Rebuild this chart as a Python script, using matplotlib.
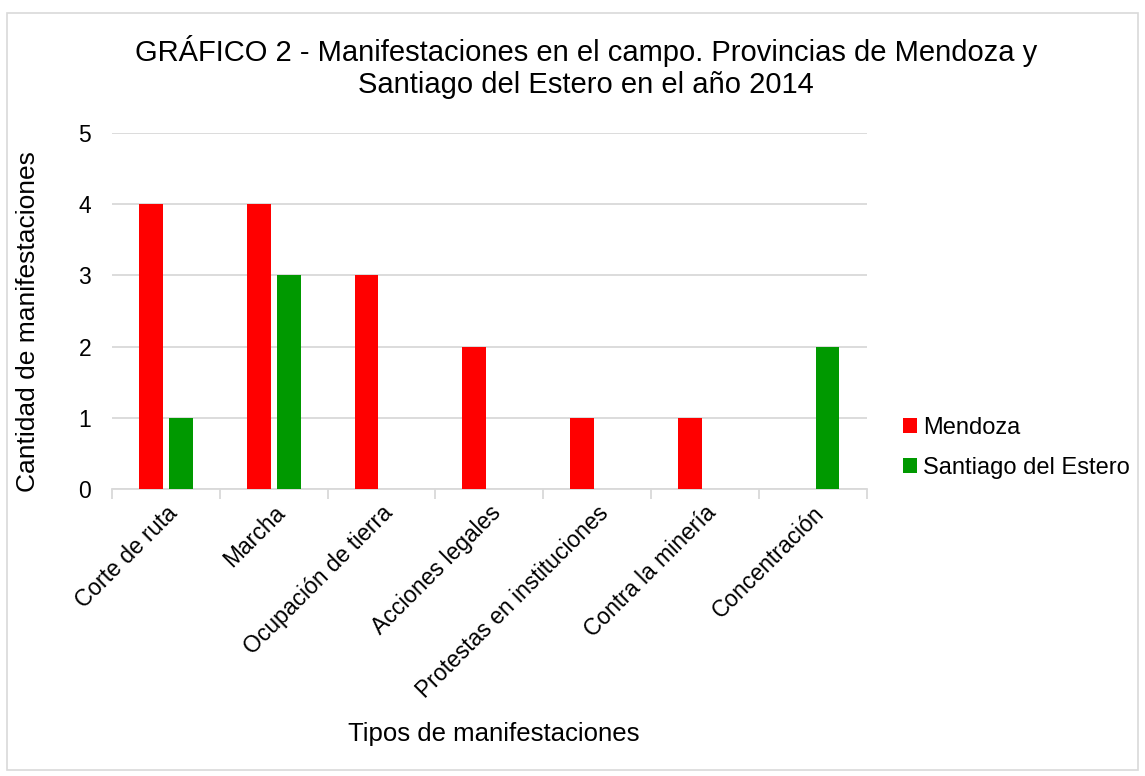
import matplotlib.pyplot as plt
from matplotlib.patches import Rectangle
import numpy as np

plt.rcParams['font.family'] = ['Liberation Sans', 'DejaVu Sans']

# data
categorias = ['Corte de ruta', 'Marcha', 'Ocupación de tierra', 'Acciones legales',
              'Protestas en instituciones', 'Contra la minería', 'Concentración']
mendoza = [4, 4, 3, 2, 1, 1, 0]
santiago = [1, 3, 0, 0, 0, 0, 2]

fig = plt.figure(figsize=(11.45, 7.76), dpi=100)
ax = fig.add_axes([0.0978, 0.3698, 0.659, 0.4588])

# border of the chart area
fig.patches.append(Rectangle((0.006, 0.008), 0.988, 0.975, transform=fig.transFigure,
                             fill=False, edgecolor='#D9D9D9', linewidth=1.2))

x = np.arange(len(categorias))
w = 0.22
ax.bar(x - 0.139, mendoza, w, color='#FF0000', label='Mendoza', zorder=3)
ax.bar(x + 0.139, santiago, w, color='#009900', label='Santiago del Estero', zorder=3)

ax.set_xlim(-0.5, len(categorias) - 0.5)
ax.set_ylim(0, 5)
ax.set_yticks(range(6))
ax.yaxis.grid(True, color='#D9D9D9', linewidth=1.3, zorder=0)
for s in ['top', 'right', 'left']:
    ax.spines[s].set_visible(False)
ax.spines['bottom'].set_color('#D9D9D9')
ax.spines['bottom'].set_linewidth(1.3)
ax.tick_params(axis='y', length=0, labelsize=16.5, pad=15)

# category labels, ticks between categories
ax.set_xticks(np.arange(-0.5, len(categorias)), minor=False)
ax.set_xticklabels([])
ax.tick_params(axis='x', which='major', length=7, color='#D9D9D9', width=1.3)
ax.set_xticks(x, minor=True)
ax.set_xticklabels(categorias, minor=True, rotation=45, ha='right', rotation_mode='anchor',
                   fontsize=16.5)
ax.tick_params(axis='x', which='minor', length=0, pad=9)

ax.set_ylabel('Cantidad de manifestaciones', fontsize=19)
ax.yaxis.set_label_coords(-0.095, 0.47)
fig.text(0.431, 0.045, 'Tipos de manifestaciones', fontsize=18.5, ha='center')
fig.suptitle('GRÁFICO 2 - Manifestaciones en el campo. Provincias de Mendoza y\n'
             'Santiago del Estero en el año 2014', fontsize=21, x=0.512, y=0.955,
             linespacing=1.2)

ax.legend(loc='center left', bbox_to_anchor=(1.02, 0.115), frameon=False, fontsize=17,
          handlelength=0.6, handleheight=0.6, handletextpad=0.25, labelspacing=0.75)

fig.savefig('out.png', dpi=100)
